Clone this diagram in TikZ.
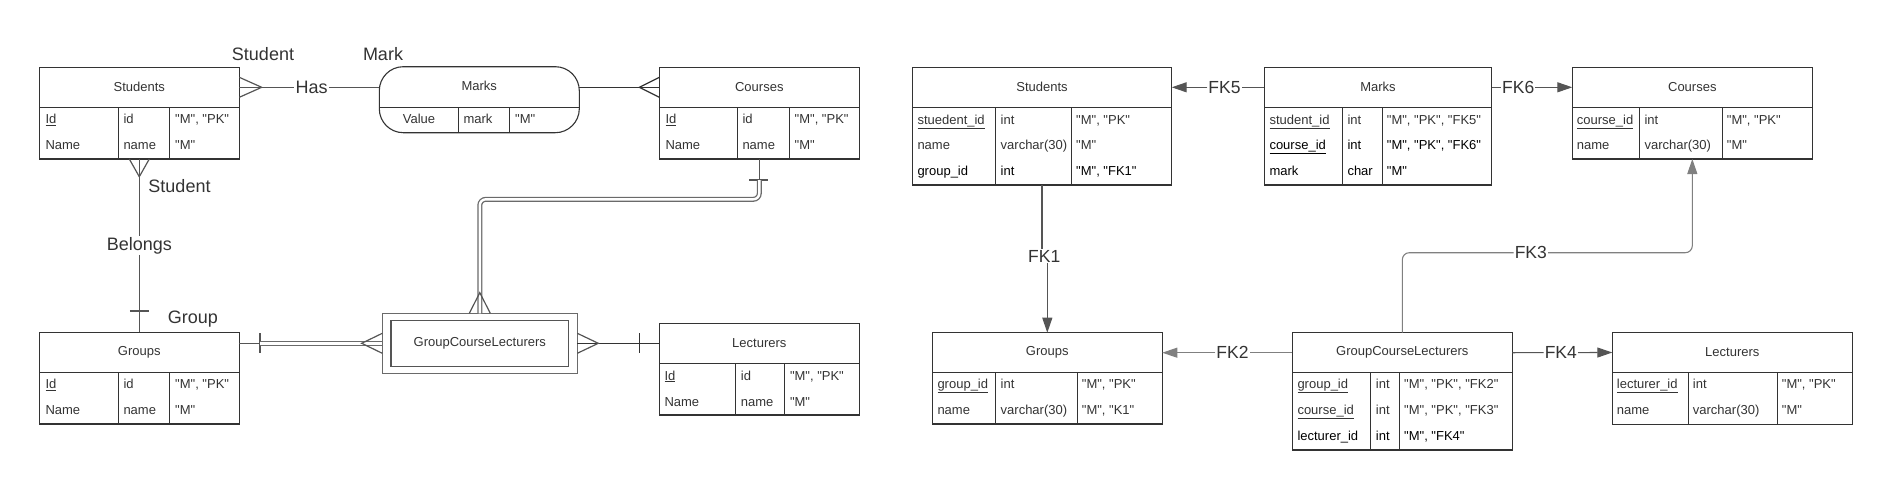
\documentclass[tikz,border=0pt]{standalone}
\usepackage{fontspec}
\setmainfont{Liberation Sans}
\newfontfamily\basefont{Liberation Sans}
\usetikzlibrary{arrows.meta,calc}
\definecolor{tcol}{HTML}{333333}
\definecolor{lcol}{HTML}{555555}
\definecolor{gcol}{HTML}{6A6A6A}
\newcommand\cellrow[9]{%
  \node[#9] (#1a) at (#3,#2) {#6};
  \node[#9] (#1b) at (#4,#2) {#7};
  \node[#9] (#1c) at (#5,#2) {#8};}
\newcommand\tablebox[8]{%
  \node[box, #8, minimum width={#3-#2}, minimum height={#5-#4}] (#1h) at (#2,#4) {#7};
  \node[box, minimum width={#3-#2}, minimum height={#6-#5}] (#1b) at (#2,#5) {};}
\begin{document}
\begin{tikzpicture}[x=1pt,y=-1pt,
  box/.style={draw=tcol, line width=1.1pt, rectangle, inner sep=0pt, outer sep=0pt, anchor=north west},
  tline/.style={draw=tcol, line width=1.1pt},
  ehead/.style={font=\basefont\fontsize{13}{15}\selectfont, text=tcol},
  ecell/.style={anchor=base west, inner sep=0pt, font=\basefont\fontsize{13}{15}\selectfont, text=tcol},
  kcell/.style={ecell, text=black},
  lbl/.style={font=\basefont\fontsize{18}{20}\selectfont, text=tcol, inner sep=1pt},
  fklbl/.style={font=\basefont\fontsize{17.5}{20}\selectfont, text=tcol, inner sep=1pt, fill=white},
  er/.style={draw=lcol, line width=1.2pt},
  dbl/.style={draw=gcol, line width=1.3pt, double=white, double distance=2.4pt},
  fk/.style={draw=lcol, line width=1.1pt},
  fkg/.style={draw=gcol!85, line width=1.1pt},
  tip/.style={-{Triangle[length=15pt,width=10pt]}}
]
\useasboundingbox (0,0) rectangle (1892,490);

% ================= ER diagram =================
% Students
\tablebox{eS}{39.3}{239.3}{67.3}{107.3}{159}{Students}{ehead}
\draw[tline] (118.3,107.3) -- (118.3,159) (169.3,107.3) -- (169.3,159);
\cellrow{eS1}{123.3}{45.3}{123.3}{175}{\underline{Id}}{id}{"M", "PK"}{ecell}
\cellrow{eS2}{149.3}{45.3}{123.3}{175}{Name}{name}{"M"}{ecell}
% Groups
\tablebox{eG}{39.3}{239.3}{332.3}{372.3}{424}{Groups}{ehead}
\draw[tline] (118.3,372.3) -- (118.3,424) (169.3,372.3) -- (169.3,424);
\cellrow{eG1}{388.3}{45.3}{123.3}{175}{\underline{Id}}{id}{"M", "PK"}{ecell}
\cellrow{eG2}{414.3}{45.3}{123.3}{175}{Name}{name}{"M"}{ecell}
% Courses
\tablebox{eC}{659.3}{859.3}{67.3}{107.3}{159}{Courses}{ehead}
\draw[tline] (737.3,107.3) -- (737.3,159) (789.3,107.3) -- (789.3,159);
\cellrow{eC1}{123.3}{665.3}{742.3}{794.5}{\underline{Id}}{id}{"M", "PK"}{ecell}
\cellrow{eC2}{149.3}{665.3}{742.3}{794.5}{Name}{name}{"M"}{ecell}
% Lecturers
\tablebox{eL}{659.3}{859.3}{323.3}{363.3}{415}{Lecturers}{ehead}
\draw[tline] (735.7,363.3) -- (735.7,415) (784.3,363.3) -- (784.3,415);
\cellrow{eL1}{380}{664.3}{740.7}{789.8}{\underline{Id}}{id}{"M", "PK"}{ecell}
\cellrow{eL2}{406}{664.3}{740.7}{789.8}{Name}{name}{"M"}{ecell}
% Marks (relationship with attribute)
\node[box, rounded corners=24pt, minimum width=200pt, minimum height=66pt] (eM) at (379.3,66.7) {};
\node[ehead, inner sep=0pt] (eMt) at (479.3,86) {Marks};
\draw[tline] (379.3,107.3) -- (579.3,107.3);
\draw[tline] (458.3,107.3) -- (458.3,132.7) (509.3,107.3) -- (509.3,132.7);
\node[ecell, anchor=base] (eM1a) at (419,123.3) {Value};
\node[ecell] (eM1b) at (463.3,123.3) {mark};
\node[ecell] (eM1c) at (515,123.3) {"M"};
% GroupCourseLecturers (weak entity)
\node[box, draw=gcol, anchor=center, minimum width=195pt, minimum height=60pt] (gclo) at (479.8,343.3) {};
\node[box, draw=lcol, anchor=center, minimum width=177.7pt, minimum height=46.4pt, ehead] (gcli) at (479.8,343.5) {GroupCourseLecturers};

% labels
\node[lbl, anchor=base] (lstu1) at (263,60.7) {Student};
\node[lbl, anchor=base] (lmark) at (383,60.7) {Mark};
\node[lbl, anchor=base] (lstu2) at (179.5,192.3) {Student};
\node[lbl, anchor=base] (lgrp) at (192.8,323.3) {Group};
\node[lbl, anchor=base] (belongs) at (139.3,250) {Belongs};
\node[lbl] (has) at (311.7,87.3) {Has};

% Students - Has - Marks
\draw[er] (eSh.east) -- (has);
\draw[er] (has) -- (eM.west |- has);
\draw[er] ($(eSh.east)+(0,-10)$) -- ($(eSh.east)+(22.4,0)$) -- ($(eSh.east)+(0,10)$);
% Marks - Courses
\draw[er, draw=tcol] (eM.east |- eCh.west) -- (eCh.west);
\draw[er, draw=tcol] ($(eCh.west)+(0,-10)$) -- ($(eCh.west)+(-20,0)$) -- ($(eCh.west)+(0,10)$);
% Students - Belongs - Groups
\draw[er] (eSb.south) -- (belongs);
\draw[er] (belongs) -- (eGh.north);
\draw[er] ($(eSb.south)+(-10,0)$) -- ($(eSb.south)+(0,17.7)$) -- ($(eSb.south)+(10,0)$);
\draw[er] ($(eGh.north)+(-9.5,-21.3)$) -- ($(eGh.north)+(9.5,-21.3)$);
% Groups - GroupCourseLecturers
\draw[er] (eGh.east |- gclo.west) -- ++(20.7,0);
\draw[er] ($(eGh.east |- gclo.west)+(20.7,-10)$) -- ++(0,20);
\draw[dbl] ($(eGh.east |- gclo.west)+(20.7,0)$) -- (gclo.west);
\draw[er] ($(gclo.west)+(0,-10)$) -- ($(gclo.west)+(-20.6,0)$) -- ($(gclo.west)+(0,10)$);
% Courses - GroupCourseLecturers
\draw[er] (eCb.south) -- ++(0,21);
\draw[er] ($(eCb.south)+(-10,21)$) -- ++(19,0);
\draw[dbl, rounded corners=6pt] ($(eCb.south)+(0,21)$) |- ($(gclo.north)+(0,-114)$) -- (gclo.north);
\draw[er] ($(gclo.north)+(-10.5,0)$) -- ($(gclo.north)+(0,-20.6)$) -- ($(gclo.north)+(10.5,0)$);
% GroupCourseLecturers - Lecturers
\draw[er, draw=tcol] (gclo.east) -- (eLh.west);
\draw[er] ($(gclo.east)+(0,-10)$) -- ($(gclo.east)+(21,0)$) -- ($(gclo.east)+(0,10)$);
\draw[er, draw=tcol] ($(eLh.west)+(-20,-10)$) -- ++(0,20);

% ================= Relational schema =================
% Students
\tablebox{rS}{912.3}{1171.7}{67.3}{107.3}{185}{Students}{ehead}
\draw[tline] (995.7,107.3) -- (995.7,185) (1071.7,107.3) -- (1071.7,185);
\cellrow{rS1}{124}{917.3}{1000.5}{1076}{\underline{stuedent\_id}}{int}{"M", "PK"}{ecell}
\cellrow{rS2}{149.5}{917.3}{1000.5}{1076}{name}{varchar(30)}{"M"}{ecell}
\cellrow{rS3}{175}{917.3}{1000.5}{1076}{group\_id}{int}{"M", "FK1"}{kcell}
% Marks
\tablebox{rM}{1264.3}{1491.7}{67.3}{107.3}{185}{Marks}{ehead}
\draw[tline] (1342.3,107.3) -- (1342.3,185) (1382.3,107.3) -- (1382.3,185);
\cellrow{rM1}{124}{1269.3}{1347.3}{1386.7}{\underline{student\_id}}{int}{"M", "PK", "FK5"}{ecell}
\cellrow{rM2}{149.5}{1269.3}{1347.3}{1386.7}{\underline{course\_id}}{int}{"M", "PK", "FK6"}{kcell}
\cellrow{rM3}{175}{1269.3}{1347.3}{1386.7}{mark}{char}{"M"}{kcell}
% Courses
\tablebox{rC}{1572.3}{1812.3}{67.3}{107.3}{159}{Courses}{ehead}
\draw[tline] (1639.3,107.3) -- (1639.3,159) (1722.3,107.3) -- (1722.3,159);
\cellrow{rC1}{124}{1576.7}{1644.3}{1726.7}{\underline{course\_id}}{int}{"M", "PK"}{ecell}
\cellrow{rC2}{149.5}{1576.7}{1644.3}{1726.7}{name}{varchar(30)}{"M"}{ecell}
% Groups
\tablebox{rG}{932.3}{1162.3}{332.7}{372.7}{424}{Groups}{ehead}
\draw[tline] (995.7,372.7) -- (995.7,424) (1077.7,372.7) -- (1077.7,424);
\cellrow{rG1}{388.3}{937.3}{1000.5}{1081.7}{\underline{group\_id}}{int}{"M", "PK"}{ecell}
\cellrow{rG2}{414.3}{937.3}{1000.5}{1081.7}{name}{varchar(30)}{"M", "K1"}{ecell}
% GroupCourseLecturers
\tablebox{rGCL}{1292.3}{1512.3}{332.7}{372.7}{450}{GroupCourseLecturers}{ehead}
\draw[tline] (1370.7,372.7) -- (1370.7,450) (1399.3,372.7) -- (1399.3,450);
\cellrow{rGCL1}{388.3}{1297.3}{1375.7}{1404}{\underline{group\_id}}{int}{"M", "PK", "FK2"}{ecell}
\cellrow{rGCL2}{414.3}{1297.3}{1375.7}{1404}{\underline{course\_id}}{int}{"M", "PK", "FK3"}{ecell}
\cellrow{rGCL3}{440}{1297.3}{1375.7}{1404}{lecturer\_id}{int}{"M", "FK4"}{kcell}
% Lecturers
\tablebox{rL}{1612.3}{1852.3}{332.5}{372.5}{424.3}{Lecturers}{ehead}
\draw[tline] (1688.3,372.5) -- (1688.3,424.3) (1777.3,372.5) -- (1777.3,424.3);
\cellrow{rL1}{388.3}{1616.7}{1692.7}{1781.7}{\underline{lecturer\_id}}{int}{"M", "PK"}{ecell}
\cellrow{rL2}{414.3}{1616.7}{1692.7}{1781.7}{name}{varchar(30)}{"M"}{ecell}

% FK labels
\node[fklbl] (fk5) at (1224.5,87.3) {FK5};
\node[fklbl] (fk6) at (1518.2,87.3) {FK6};
\node[fklbl] (fk1) at (1044.2,256) {FK1};
\node[fklbl] (fk2) at (1232.5,352.7) {FK2};
\node[fklbl] (fk4) at (1560.8,352.6) {FK4};
\node[fklbl] (fk3) at (1530.8,252.7) {FK3};

% FK connectors
\draw[fk] (rMh.west) -- (fk5);
\draw[fk, tip] (fk5) -- (rSh.east);
\draw[fk] (rMh.east) -- (fk6);
\draw[fk, tip] (fk6) -- (rCh.west);
\draw[fk] (rSb.south) -- (rSb.south |- fk1.north);
\draw[fk, tip] (rGh.north |- fk1.south) -- (rGh.north);
\draw[fkg] (rGCLh.west) -- (fk2);
\draw[fkg, tip] (fk2) -- (rGh.east);
\draw[fk] (rGCLh.east) -- (fk4);
\draw[fk, tip] (fk4) -- (rLh.west);
\draw[fkg, rounded corners=7pt] (rGCLh.north) |- (fk3);
\draw[fkg, rounded corners=7pt, tip] (fk3) -| (rCb.south);
\end{tikzpicture}
\end{document}
